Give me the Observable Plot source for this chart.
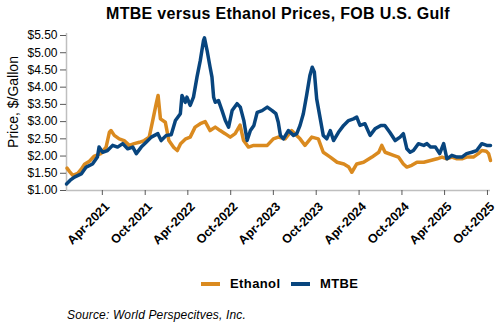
<!DOCTYPE html>
<html>
<head>
<meta charset="utf-8">
<script src="https://cdn.jsdelivr.net/npm/d3@7"></script>
<script src="https://cdn.jsdelivr.net/npm/@observablehq/plot@0.6"></script>
<style>
  html, body { margin: 0; padding: 0; background: #fff; }
  body { width: 500px; height: 330px; position: relative; overflow: hidden; font-family: "Liberation Sans", Arial, sans-serif; }
  #title { position: absolute; top: 5px; left: 0; width: 556px; text-align: center; font-weight: bold; font-size: 16px; letter-spacing: 0.3px; color: #000; }
  #chart { position: absolute; top: 28px; left: 0; }
  #legend { position: absolute; top: 276px; left: 0; width: 500px; height: 16px; }
  .sw { position: absolute; top: 6px; width: 19px; height: 4px; }
  .lt { position: absolute; top: 0; font-weight: bold; font-size: 13px; letter-spacing: 0.4px; color: #000; }
  #source { position: absolute; top: 308px; left: 67px; font-style: italic; font-size: 12px; letter-spacing: 0.15px; color: #000; }
</style>
</head>
<body>
<div id="title">MTBE versus Ethanol Prices, FOB U.S. Gulf</div>
<div id="chart"></div>
<div id="legend">
  <div class="sw" style="left:201px;background:#DA8A1F"></div><div class="lt" style="left:230px">Ethanol</div>
  <div class="sw" style="left:291px;background:#08457E"></div><div class="lt" style="left:320px">MTBE</div>
</div>
<div id="source">Source: World Perspecitves, Inc.</div>
<script>
const seriesNames = ["Ethanol", "MTBE"];
const seriesColors = ["#DA8A1F", "#08457E"];

const ethanolDates = ["2020-11-01","2020-11-12","2020-11-26","2020-12-17","2021-01-01","2021-01-15","2021-02-05","2021-02-26","2021-03-26","2021-04-17","2021-05-01","2021-05-08","2021-05-22","2021-06-12","2021-07-03","2021-07-25","2021-08-15","2021-09-06","2021-09-27","2021-10-18","2021-11-02","2021-11-17","2021-11-25","2021-12-05","2021-12-26","2022-01-10","2022-01-31","2022-02-15","2022-03-01","2022-03-23","2022-04-11","2022-05-02","2022-05-24","2022-06-14","2022-07-05","2022-07-27","2022-08-17","2022-09-07","2022-09-29","2022-10-20","2022-11-10","2022-11-25","2022-12-16","2023-01-07","2023-02-05","2023-03-06","2023-04-01","2023-04-22","2023-05-21","2023-06-18","2023-07-02","2023-07-24","2023-08-14","2023-09-12","2023-10-10","2023-10-31","2023-11-30","2023-12-29","2024-01-27","2024-02-17","2024-03-01","2024-03-22","2024-04-20","2024-05-26","2024-06-24","2024-07-07","2024-07-21","2024-08-26","2024-09-16","2024-10-07","2024-10-22","2024-11-12","2024-12-04","2025-01-02","2025-01-31","2025-02-28","2025-03-21","2025-04-11","2025-05-02","2025-05-24","2025-06-14","2025-07-04","2025-08-02","2025-08-23","2025-09-07","2025-09-26","2025-10-06","2025-10-14"];
const ethanolValues = [1.65,1.55,1.44,1.50,1.62,1.76,1.85,2.00,2.07,2.26,2.69,2.74,2.60,2.50,2.45,2.31,2.36,2.40,2.45,2.55,3.03,3.52,3.76,3.08,2.98,2.45,2.25,2.16,2.36,2.50,2.55,2.84,2.94,3.00,2.74,2.84,2.74,2.65,2.55,2.65,2.90,2.45,2.26,2.31,2.31,2.31,2.50,2.55,2.50,2.74,2.65,2.50,2.31,2.55,2.50,2.11,1.97,1.82,1.77,1.68,1.53,1.77,1.82,1.97,2.11,2.31,2.11,2.02,1.97,1.77,1.68,1.73,1.82,1.82,1.87,1.92,1.97,1.92,1.97,1.92,1.92,1.97,1.97,2.07,2.16,2.14,2.07,1.87];

const mtbeDates = ["2020-10-30","2020-11-15","2020-12-03","2021-01-01","2021-01-22","2021-02-18","2021-03-11","2021-03-18","2021-04-02","2021-04-23","2021-05-15","2021-06-05","2021-06-27","2021-07-18","2021-08-09","2021-08-24","2021-09-14","2021-10-05","2021-10-27","2021-11-24","2021-12-08","2021-12-30","2022-01-20","2022-02-07","2022-02-28","2022-03-07","2022-03-21","2022-03-28","2022-04-11","2022-04-25","2022-05-10","2022-05-24","2022-06-07","2022-06-11","2022-06-22","2022-07-05","2022-07-13","2022-07-20","2022-07-27","2022-08-10","2022-08-25","2022-09-08","2022-09-22","2022-10-07","2022-10-28","2022-11-11","2022-11-26","2022-12-10","2022-12-24","2023-01-08","2023-01-22","2023-02-12","2023-03-06","2023-03-27","2023-04-12","2023-04-22","2023-05-01","2023-05-14","2023-06-04","2023-06-26","2023-07-10","2023-07-24","2023-08-07","2023-08-21","2023-09-04","2023-09-14","2023-09-23","2023-10-03","2023-10-17","2023-10-31","2023-11-15","2023-11-30","2023-12-14","2024-01-04","2024-01-26","2024-02-16","2024-03-08","2024-03-22","2024-04-05","2024-04-26","2024-05-18","2024-06-08","2024-07-03","2024-07-20","2024-08-10","2024-09-02","2024-09-23","2024-10-07","2024-10-22","2024-11-05","2024-11-19","2024-12-10","2025-01-02","2025-01-16","2025-01-31","2025-02-21","2025-03-11","2025-03-28","2025-04-11","2025-05-02","2025-05-24","2025-06-14","2025-07-04","2025-07-26","2025-08-16","2025-09-07","2025-09-28","2025-10-14"];
const mtbeValues = [1.19,1.30,1.39,1.48,1.68,1.77,1.97,2.26,2.11,2.16,2.31,2.26,2.36,2.21,2.26,2.07,2.26,2.40,2.55,2.65,2.45,2.60,2.62,3.03,3.23,3.76,3.56,3.71,3.47,3.71,4.29,4.77,5.36,5.43,5.07,4.58,4.29,3.71,3.56,3.61,3.32,3.03,2.84,3.32,3.52,3.42,3.03,2.45,2.74,2.89,3.27,3.32,3.42,3.32,3.23,2.98,2.60,2.50,2.74,2.60,2.65,2.89,3.23,3.76,4.34,4.58,4.44,3.66,3.13,2.60,2.50,2.74,2.45,2.69,2.89,3.03,3.08,3.13,2.89,2.94,2.60,2.79,2.89,2.89,2.69,2.45,2.55,2.65,2.21,2.11,2.16,2.36,2.31,2.36,2.26,2.26,2.07,2.36,1.92,2.02,1.97,1.97,2.07,2.11,2.16,2.36,2.31,2.31];

const xDomain = ["2020-10-30", "2025-10-14"];
const xTickDates = ["2021-04-01","2021-10-01","2022-04-01","2022-10-01","2023-04-01","2023-10-01","2024-04-01","2024-10-01","2025-04-01","2025-10-01"];
const yTicks = [1.0, 1.5, 2.0, 2.5, 3.0, 3.5, 4.0, 4.5, 5.0, 5.5];
const yLabel = "Price, $/Gallon";

const parse = d3.utcParse("%Y-%m-%d");
const toRows = (dates, values, name) => dates.map((d, i) => ({date: parse(d), value: values[i], series: name}));
const ethanol = toRows(ethanolDates, ethanolValues, seriesNames[0]);
const mtbe = toRows(mtbeDates, mtbeValues, seriesNames[1]);
const x0 = parse(xDomain[0]);
const fmtX = d3.utcFormat("%b-%Y");
const xTicks = xTickDates.map(parse);

const chart = Plot.plot({
  width: 500,
  height: 232,
  marginLeft: 66,
  marginRight: 10,
  marginTop: 7,
  marginBottom: 70,
  style: {fontFamily: '"Liberation Sans", Arial, sans-serif', background: "white", color: "#000", overflow: "visible"},
  x: {type: "utc", domain: xDomain.map(parse)},
  y: {type: "linear", domain: [1, 5.5]},
  marks: [
    Plot.ruleY([1], {stroke: "#BFBFBF", strokeWidth: 1.5}),
    Plot.ruleX([x0], {y1: 1, y2: 5.56, stroke: "#BFBFBF", strokeWidth: 1.5}),
    Plot.axisY({ticks: yTicks, tickFormat: d => "$" + d.toFixed(2), tickSize: 6, tickPadding: 3, fontSize: 12, stroke: "#595959", label: null}),
    Plot.axisX({ticks: xTicks, tickFormat: () => "", tickSize: 5, stroke: "#595959", label: null}),
    Plot.text(xTicks, {x: d => d, y: () => 1, text: d => fmtX(d), rotate: -45, textAnchor: "end", lineAnchor: "middle", dx: 5, dy: 14, fontSize: 12.5, fontWeight: "bold", fill: "#000"}),
    Plot.text([yLabel], {frameAnchor: "left", dx: -53, dy: -11, rotate: -90, fontSize: 14, textAnchor: "middle", fill: "#000"}),
    Plot.line(ethanol, {x: "date", y: "value", stroke: seriesColors[0], strokeWidth: 3.5, strokeLinejoin: "round"}),
    Plot.line(mtbe, {x: "date", y: "value", stroke: seriesColors[1], strokeWidth: 3.5, strokeLinejoin: "round"})
  ]
});
document.getElementById("chart").appendChild(chart);
</script>
</body>
</html>
